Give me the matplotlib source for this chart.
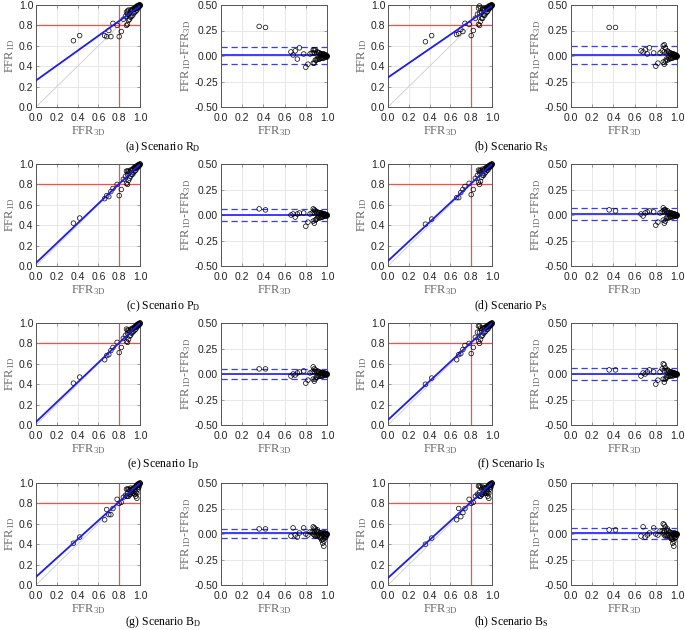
import matplotlib
matplotlib.use('Agg')
import matplotlib.pyplot as plt
import numpy as np

plt.rcParams['mathtext.fontset'] = 'custom'
plt.rcParams['mathtext.rm'] = 'Liberation Serif'
plt.rcParams['mathtext.it'] = 'Liberation Serif:italic'
plt.rcParams['font.family'] = 'Liberation Sans'

# FFR from 3D model (same lesions for every scenario)
ffr3d = [0.36, 0.42,
         0.66, 0.68, 0.70, 0.72, 0.74, 0.78, 0.80, 0.82, 0.84,
         0.86, 0.87, 0.87, 0.88, 0.88, 0.88, 0.89, 0.89, 0.90, 0.90,
         0.91, 0.91, 0.92, 0.92, 0.93, 0.93, 0.94, 0.94, 0.95, 0.95,
         0.95, 0.96, 0.96, 0.96, 0.97, 0.97, 0.97, 0.97, 0.98, 0.98,
         0.98, 0.98, 0.99, 0.99, 0.99, 0.99, 0.99, 1.00, 1.00, 1.00]

# FFR1D - FFR3D per scenario
diff_RD = [0.29, 0.28,
           0.04, 0.01, 0.05, -0.03, 0.08, 0.02, -0.11, -0.08, 0.02,
           0.03, -0.07, 0.06, -0.07, 0.06, 0.03, -0.04, 0.06, -0.04, 0.02,
           -0.03, 0.04, -0.03, 0.03, -0.03, 0.03, -0.02, 0.02, -0.02, 0.01,
           0.02, -0.02, 0.01, 0.02, -0.02, 0.01, 0.00, 0.02, -0.01, 0.00,
           0.01, 0.00, -0.01, 0.00, 0.01, 0.00, 0.00, -0.01, 0.00, 0.00]
diff_RS = [0.28, 0.28,
           0.05, 0.04, 0.06, 0.02, 0.08, 0.03, -0.10, -0.07, 0.03,
           0.05, -0.06, 0.10, -0.08, 0.11, 0.04, -0.05, 0.08, -0.03, 0.03,
           -0.04, 0.05, -0.02, 0.04, -0.03, 0.03, -0.02, 0.03, -0.02, 0.01,
           0.02, -0.02, 0.01, 0.02, -0.01, 0.01, 0.00, 0.02, -0.01, 0.00,
           0.01, 0.00, -0.01, 0.00, 0.01, 0.00, 0.00, -0.01, 0.00, 0.00]
diff_PD = [0.06, 0.05,
           0.00, 0.01, -0.02, 0.01, 0.02, 0.02, -0.11, -0.07, 0.01,
           0.02, -0.06, 0.06, -0.08, 0.05, 0.02, -0.05, 0.04, -0.04, 0.02,
           -0.03, 0.03, -0.02, 0.02, -0.03, 0.02, -0.02, 0.02, -0.02, 0.01,
           0.02, -0.02, 0.01, 0.01, -0.01, 0.01, 0.00, 0.01, -0.01, 0.00,
           0.01, 0.00, -0.01, 0.00, 0.00, 0.00, 0.00, -0.01, 0.00, 0.00]
diff_PS = [0.05, 0.04,
           0.01, -0.01, 0.02, 0.03, 0.04, 0.03, -0.10, -0.07, 0.02,
           0.03, -0.05, 0.07, -0.08, 0.05, 0.03, -0.06, 0.05, -0.03, 0.03,
           -0.02, 0.04, -0.03, 0.02, -0.02, 0.02, -0.02, 0.02, -0.01, 0.01,
           0.02, -0.02, 0.01, 0.01, -0.01, 0.01, 0.00, 0.01, -0.01, 0.00,
           0.01, 0.00, -0.01, 0.00, 0.00, 0.00, 0.00, -0.01, 0.00, 0.00]
diff_ID = [0.05, 0.05,
           -0.02, 0.00, -0.01, 0.01, 0.02, 0.03, -0.09, -0.06, 0.01,
           0.02, -0.05, 0.07, -0.07, 0.05, 0.02, -0.05, 0.04, -0.03, 0.02,
           -0.03, 0.03, -0.02, 0.02, -0.02, 0.02, -0.02, 0.01, -0.02, 0.01,
           0.01, -0.02, 0.01, 0.01, -0.01, 0.01, 0.00, 0.01, -0.01, 0.00,
           0.01, 0.00, -0.01, 0.00, 0.00, 0.00, 0.00, -0.01, 0.00, 0.00]
diff_IS = [0.04, 0.04,
           -0.02, 0.01, 0.00, 0.02, 0.04, 0.02, -0.10, -0.06, 0.02,
           0.05, -0.05, 0.10, -0.08, 0.09, 0.03, -0.05, 0.06, -0.03, 0.03,
           -0.03, 0.04, -0.02, 0.03, -0.02, 0.02, -0.02, 0.02, -0.01, 0.01,
           0.02, -0.02, 0.01, 0.01, -0.01, 0.01, 0.00, 0.01, -0.01, 0.00,
           0.01, 0.00, -0.01, 0.00, 0.00, 0.00, 0.00, -0.01, 0.00, 0.00]
diff_BD = [0.05, 0.05,
           -0.02, 0.06, -0.01, -0.03, 0.01, 0.06, 0.00, -0.01, 0.02,
           0.02, 0.00, 0.07, -0.01, 0.06, 0.02, -0.02, 0.05, -0.01, 0.03,
           -0.02, 0.04, -0.01, 0.02, -0.03, 0.01, -0.04, 0.01, -0.06, 0.01,
           -0.03, -0.09, 0.00, -0.05, -0.12, 0.00, -0.07, 0.01, -0.04, 0.00,
           0.01, -0.02, -0.03, 0.00, -0.01, 0.00, 0.00, -0.01, 0.00, 0.00]
diff_BS = [0.04, 0.04,
           -0.02, 0.07, -0.03, -0.01, 0.01, 0.06, 0.00, -0.01, 0.03,
           0.03, 0.01, 0.10, -0.01, 0.09, 0.03, -0.02, 0.07, -0.01, 0.04,
           -0.02, 0.05, -0.01, 0.03, -0.03, 0.02, -0.04, 0.01, -0.05, 0.01,
           -0.03, -0.09, 0.00, -0.05, -0.12, 0.00, -0.07, 0.01, -0.04, 0.00,
           0.01, -0.02, -0.03, 0.00, -0.01, 0.00, 0.00, -0.01, 0.00, 0.00]

# regression line: intercept, slope
fit_RD = (0.26, 0.73)
fit_RS = (0.29, 0.70)
fit_PD = (0.03, 0.97)
fit_PS = (0.05, 0.95)
fit_ID = (0.03, 0.97)
fit_IS = (0.05, 0.95)
fit_BD = (0.08, 0.92)
fit_BS = (0.07, 0.93)

# Bland-Altman: bias, lower limit, upper limit
ba_RD = (0.005, -0.075, 0.09)
ba_RS = (0.008, -0.08, 0.095)
ba_PD = (0.0, -0.055, 0.055)
ba_PS = (0.005, -0.045, 0.065)
ba_ID = (0.003, -0.05, 0.05)
ba_IS = (0.003, -0.055, 0.06)
ba_BD = (0.005, -0.04, 0.05)
ba_BS = (0.005, -0.05, 0.06)

captions = [r'(a) Scenario R$_\mathrm{D}$', r'(b) Scenario R$_\mathrm{S}$',
            r'(c) Scenario P$_\mathrm{D}$', r'(d) Scenario P$_\mathrm{S}$',
            r'(e) Scenario I$_\mathrm{D}$', r'(f) Scenario I$_\mathrm{S}$',
            r'(g) Scenario B$_\mathrm{D}$', r'(h) Scenario B$_\mathrm{S}$']
diffs = [diff_RD, diff_RS, diff_PD, diff_PS, diff_ID, diff_IS, diff_BD, diff_BS]
fits = [fit_RD, fit_RS, fit_PD, fit_PS, fit_ID, fit_IS, fit_BD, fit_BS]
bas = [ba_RD, ba_RS, ba_PD, ba_PS, ba_ID, ba_IS, ba_BD, ba_BS]

W, H = 685, 630
fig = plt.figure(figsize=(W / 100, H / 100), dpi=100)

row_top = [5, 164, 323, 483]
cap_y = [147, 306, 464, 622]
col_sc = [36, 388]
col_ba = [221, 571]
cap_x = [163, 511]
aw, ah = 104, 102

lab_col = '#6a6a6a'
serif = 'Liberation Serif'
x3d = np.array(ffr3d)
xx = np.array([0.0, 1.0])


def style(ax):
    for s in ax.spines.values():
        s.set_color('#555555')
        s.set_linewidth(0.7)
    ax.grid(True, color='#e3e3e3', lw=0.6)
    ax.set_axisbelow(True)
    ax.tick_params(labelsize=7.5, length=2, width=0.5, direction='in',
                   color='#777777', labelcolor='#222222')
    ax.tick_params(axis='x', pad=4)
    ax.tick_params(axis='y', pad=2)
    ax.xaxis.set_ticks_position('both')
    ax.yaxis.set_ticks_position('both')
    ax.set_xlim(0, 1)
    ax.set_xticks(np.arange(0, 1.01, 0.2))
    ax.set_xticklabels(['%.1f' % v for v in np.arange(0, 1.01, 0.2)])
    ax.set_xlabel(r'$\mathrm{FFR}_{\mathrm{3D}}$', fontsize=9, color=lab_col, labelpad=1)


for i in range(8):
    r, c = i // 2, i % 2
    d = np.array(diffs[i])
    f1d = x3d + d
    b0, b1 = fits[i]
    bias, lo, hi = bas[i]
    bottom = 1 - (row_top[r] + ah) / H

    ax = fig.add_axes([col_sc[c] / W, bottom, aw / W, ah / H])
    style(ax)
    ax.set_ylim(0, 1)
    ax.set_yticks(np.arange(0, 1.01, 0.2))
    ax.set_yticklabels(['%.1f' % v for v in np.arange(0, 1.01, 0.2)])
    ax.plot(xx, xx, color='#cccccc', lw=0.6)
    ax.axvline(0.8, color='#ff4a4a', lw=0.9)
    ax.axhline(0.8, color='#ff4a4a', lw=0.9)
    ax.scatter(x3d, f1d, s=11, facecolors='none', edgecolors='black',
               linewidths=0.5, zorder=3, clip_on=False)
    ax.plot(xx, b0 + b1 * xx, color='#1a1aff', lw=1.3, zorder=4)
    ax.set_ylabel(r'$\mathrm{FFR}_{\mathrm{1D}}$', fontsize=9, color=lab_col, labelpad=1)

    ax2 = fig.add_axes([col_ba[c] / W, bottom, (aw + 2) / W, ah / H])
    style(ax2)
    ax2.set_ylim(-0.5, 0.5)
    ax2.set_yticks(np.arange(-0.5, 0.51, 0.25))
    ax2.set_yticklabels(['%.2f' % v for v in np.arange(-0.5, 0.51, 0.25)])
    ax2.axhline(bias, color='#1a1aff', lw=1.2, zorder=2)
    ax2.axhline(lo, color='#3a3aff', lw=0.9, ls=(0, (5, 3)), zorder=2)
    ax2.axhline(hi, color='#3a3aff', lw=0.9, ls=(0, (5, 3)), zorder=2)
    ax2.scatter(x3d, d, s=11, facecolors='none', edgecolors='black',
                linewidths=0.5, zorder=3, clip_on=False)
    ax2.set_ylabel(r'$\mathrm{FFR}_{\mathrm{1D}}$-$\mathrm{FFR}_{\mathrm{3D}}$',
                   fontsize=9, color=lab_col, labelpad=1)

    fig.text(cap_x[c] / W, 1 - cap_y[r] / H, captions[i], fontsize=8.5,
             family=serif, ha='center', va='center')

fig.savefig('out.png', dpi=100)
